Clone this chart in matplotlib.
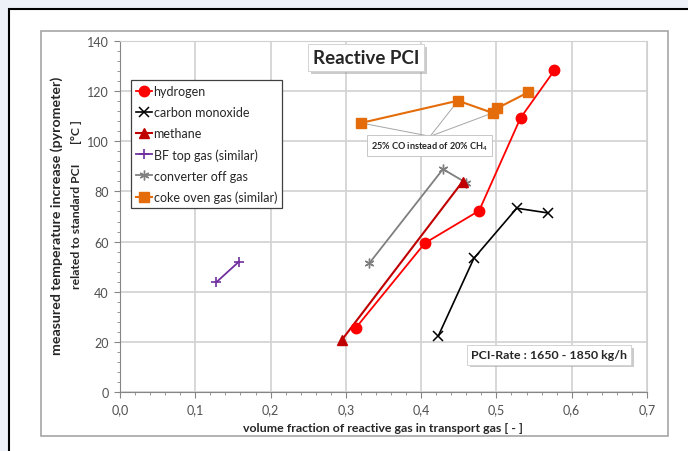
import matplotlib
matplotlib.use("Agg")
import matplotlib.pyplot as plt
from matplotlib.patches import Rectangle
from matplotlib.ticker import MultipleLocator, FuncFormatter
import matplotlib.patheffects as pe

plt.rcParams['font.family'] = ['Lato', 'DejaVu Sans']
plt.rcParams['mathtext.fontset'] = 'custom'
plt.rcParams['mathtext.rm'] = 'Lato'
plt.rcParams['mathtext.bf'] = 'Lato:bold'

# data
x_h2 = [0.313, 0.405, 0.477, 0.532, 0.577]
y_h2 = [25.5, 59.4, 72.3, 109.3, 128.3]
x_co = [0.423, 0.470, 0.527, 0.569]
y_co = [22.5, 53.3, 73.3, 71.4]
x_ch4 = [0.295, 0.455]
y_ch4 = [20.9, 83.9]
x_bf = [0.128, 0.158]
y_bf = [43.8, 52.0]
x_conv = [0.331, 0.429, 0.460]
y_conv = [51.3, 88.9, 83.4]
x_coke = [0.320, 0.449, 0.495, 0.501, 0.542]
y_coke = [107.3, 116.2, 111.3, 113.2, 119.5]

W, H = 688, 452
fig = plt.figure(figsize=(W / 100, H / 100), dpi=100, facecolor='#eef1f7')

# white panel with black border (runs off right / bottom)
fig.patches.append(Rectangle((9 / W, -0.1), 1.2, 1 - 10 / H + 0.1, transform=fig.transFigure,
                             facecolor='white', edgecolor='black', lw=1.5, zorder=0))
# chart frame
fig.patches.append(Rectangle((41 / W, 1 - 437 / H), (668 - 41) / W, (437 - 32) / H,
                             transform=fig.transFigure, facecolor='white', edgecolor='#a6a6a6',
                             lw=1.2, zorder=0.5))

ax = fig.add_axes([120 / W, 1 - 393 / H, (647 - 120) / W, (393 - 42) / H])
ax.set_zorder(2)
ax.set_facecolor('white')
ax.set_xlim(0, 0.7)
ax.set_ylim(0, 140)
ax.xaxis.set_major_locator(MultipleLocator(0.1))
ax.xaxis.set_minor_locator(MultipleLocator(0.02))
ax.yaxis.set_major_locator(MultipleLocator(20))
ax.yaxis.set_minor_locator(MultipleLocator(4))
ax.xaxis.set_major_formatter(FuncFormatter(lambda v, p: f"{v:.1f}".replace('.', ',')))
ax.grid(True, which='major', color='#d4d4d4', lw=1.3)
ax.set_axisbelow(True)
for s in ['top', 'right']:
    ax.spines[s].set_color('#d0d0d0')
for s in ['left', 'bottom']:
    ax.spines[s].set_color('#868686')
ax.tick_params(which='major', length=4, color='#868686', labelsize=9, labelcolor='#505050', pad=4)
ax.tick_params(which='minor', length=2.5, color='#868686')

ax.plot(x_conv, y_conv, color='#7f7f7f', lw=1.3, marker=(6, 2, 0), ms=7, mew=1.0,
        label='converter off gas', zorder=3)
ax.plot(x_bf, y_bf, color='#7030a0', lw=1.3, marker='+', ms=7, mew=1.2,
        label='BF top gas (similar)', zorder=3)
ax.plot(x_coke, y_coke, color='#e46c0a', lw=1.5, marker='s', ms=6.5,
        label='coke oven gas (similar)', zorder=3)
ax.plot(x_co, y_co, color='black', lw=1.2, marker='x', ms=7, mew=1.1,
        label='carbon monoxide', zorder=4)
ax.plot(x_ch4, y_ch4, color='#c00000', lw=1.5, marker='^', ms=6.5,
        label='methane', zorder=4)
ax.plot(x_h2, y_h2, color='#ff0000', lw=1.3, marker='o', ms=7.5,
        label='hydrogen', zorder=5)

handles, labels = ax.get_legend_handles_labels()
order = ['hydrogen', 'carbon monoxide', 'methane', 'BF top gas (similar)',
         'converter off gas', 'coke oven gas (similar)']
hl = dict(zip(labels, handles))
leg = ax.legend([hl[k] for k in order], order, loc='upper left',
                bbox_to_anchor=((131 - 120) / 527, (393 - 81) / 351), borderaxespad=0,
                fontsize=9, handlelength=1.3, handletextpad=0.1, labelspacing=0.72,
                fancybox=False, framealpha=1, edgecolor='#404040', borderpad=0.4)
leg.get_frame().set_linewidth(0.9)
for t in leg.get_texts():
    t.set_color('#262626')

# annotation with connector lines to coke oven points
ann_x, ann_y = 0.412, 102
for i in range(3):
    ax.plot([ann_x, x_coke[i]], [ann_y, y_coke[i]], color='#a6a6a6', lw=0.7, zorder=2)
ax.text(0.411, 98.3, r'25% CO instead of 20% CH$_\mathbf{4}$', fontsize=6.6, fontweight='bold',
        ha='center', va='center', color='#262626', zorder=6,
        bbox=dict(boxstyle='square,pad=0.45', facecolor='white', edgecolor='#bfbfbf', lw=0.6))

shadow = [pe.withSimplePatchShadow(offset=(2, -2), shadow_rgbFace='#999999', alpha=0.5), pe.Normal()]
t1 = ax.text(0.327, 133.4, 'Reactive PCI', fontsize=13.5, fontweight='bold', ha='center',
             va='center', color='#262626', zorder=6,
             bbox=dict(boxstyle='square,pad=0.25', facecolor='white', edgecolor='#d0d0d0', lw=0.6))
t1.get_bbox_patch().set_path_effects(shadow)
t2 = ax.text(0.570, 14.8, 'PCI-Rate : 1650 - 1850 kg/h', fontsize=8.9, fontweight='bold',
             ha='center', va='center', color='#262626', zorder=6,
             bbox=dict(boxstyle='square,pad=0.35', facecolor='white', edgecolor='#d0d0d0', lw=0.6))
t2.get_bbox_patch().set_path_effects(shadow)

fig.text(383 / W, 1 - 429 / H, 'volume fraction of reactive gas in transport gas [ - ]',
         fontsize=8.9, fontweight='bold', ha='center', va='center', color='#262626')
fig.text(57 / W, 1 - 216 / H, 'measured temperature increase (pyrometer)', rotation=90,
         fontsize=10.2, fontweight='bold', ha='center', va='center', color='#262626')
fig.text(76 / W, 1 - 226 / H, 'related to standard PCI', rotation=90,
         fontsize=8.8, fontweight='bold', ha='center', va='center', color='#262626')
fig.text(76 / W, 1 - 132 / H, '[°C ]', rotation=90,
         fontsize=8.8, fontweight='bold', ha='center', va='center', color='#262626')

fig.savefig('out.png', dpi=100, facecolor=fig.get_facecolor())
